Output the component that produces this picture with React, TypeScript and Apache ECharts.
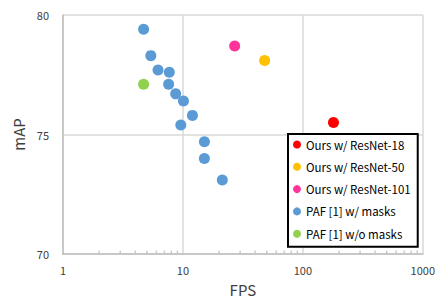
import React, { useEffect, useRef } from "react";
import * as echarts from "echarts";

const seriesNames = [
  "Ours w/ ResNet-18",
  "Ours w/ ResNet-50",
  "Ours w/ ResNet-101",
  "PAF [1] w/ masks",
  "PAF [1] w/o masks",
];
const seriesColors = ["#ff0000", "#ffc000", "#ff3399", "#5b9bd5", "#92d050"];

const oursR18: [number, number][] = [[180, 75.5]];
const oursR50: [number, number][] = [[48, 78.1]];
const oursR101: [number, number][] = [[27, 78.7]];
const pafMasks: [number, number][] = [
  [4.7, 79.4],
  [5.4, 78.3],
  [6.2, 77.7],
  [7.7, 77.6],
  [7.6, 77.1],
  [8.7, 76.7],
  [10.1, 76.4],
  [12.0, 75.8],
  [9.6, 75.4],
  [15.1, 74.7],
  [15.1, 74.0],
  [21.3, 73.1],
];
const pafNoMasks: [number, number][] = [[4.7, 77.1]];

const minorTickValues = [
  2, 3, 4, 5, 6, 7, 8, 9, 20, 30, 40, 50, 60, 70, 80, 90, 200, 300, 400, 500,
  600, 700, 800, 900,
];

const FONT = "'Noto Sans CJK JP', 'Noto Sans', sans-serif";

export default function App() {
  const ref = useRef<HTMLDivElement>(null);
  useEffect(() => {
    document.body.style.margin = "0";
    if (!ref.current) return;
    const chart = echarts.init(ref.current, undefined, { renderer: "svg" });
    const allData = [oursR18, oursR50, oursR101, pafMasks, pafNoMasks];
    chart.setOption({
      animation: false,
      textStyle: { fontFamily: FONT },
      grid: { left: 63, right: 15, top: 15, bottom: 49 },
      xAxis: {
        type: "log",
        logBase: 10,
        min: 1,
        max: 1000,
        name: "FPS",
        nameLocation: "middle",
        nameGap: 28,
        nameTextStyle: { fontSize: 15, color: "#404040", fontFamily: FONT },
        axisLine: { show: true, lineStyle: { color: "#bfbfbf", width: 1.5 } },
        axisTick: { show: false },
        axisLabel: {
          fontSize: 11,
          color: "#404040",
          margin: 10,
          fontFamily: FONT,
          formatter: (v: number) => String(Math.round(v)),
        },
        splitLine: { show: true, lineStyle: { color: "#d9d9d9", width: 1.5 } },
      },
      yAxis: {
        type: "value",
        min: 70,
        max: 80,
        interval: 5,
        name: "mAP",
        nameLocation: "middle",
        nameGap: 35,
        nameRotate: 90,
        nameTextStyle: { fontSize: 15, color: "#404040", fontFamily: FONT },
        axisLine: { show: true, lineStyle: { color: "#bfbfbf", width: 1.5 } },
        axisTick: { show: false },
        axisLabel: { fontSize: 11, color: "#404040", margin: 14, fontFamily: FONT },
        splitLine: { show: true, lineStyle: { color: "#d9d9d9", width: 1.5 } },
      },
      legend: {
        data: seriesNames,
        orient: "vertical",
        left: 288,
        top: 134,
        icon: "circle",
        itemWidth: 8,
        itemHeight: 8,
        itemGap: 8.3,
        padding: [3.5, 7, 6, 5],
        borderColor: "#000",
        borderWidth: 2,
        backgroundColor: "#fff",
        textStyle: { fontSize: 11.5, color: "#000", lineHeight: 14, fontFamily: FONT },
      },
      series: [
        {
          type: "scatter",
          name: "minor",
          data: minorTickValues.map((v) => [v, 70]),
          symbol: "rect",
          symbolSize: [1.5, 3],
          symbolOffset: [0, -2],
          itemStyle: { color: "#bfbfbf" },
          silent: true,
          clip: false,
          z: 1,
        },
        ...seriesNames.map((name, i) => ({
          type: "scatter",
          name,
          data: allData[i],
          symbol: "circle",
          symbolSize: 11,
          itemStyle: { color: seriesColors[i], opacity: 1 },
          z: 3,
        })),
      ],
    });
    return () => chart.dispose();
  }, []);
  return <div ref={ref} style={{ width: 438, height: 303 }} />;
}
